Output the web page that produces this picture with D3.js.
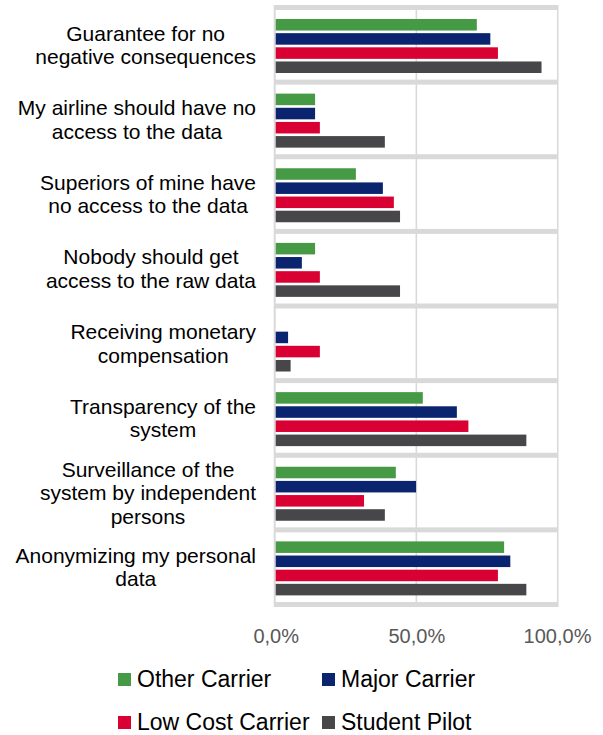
<!DOCTYPE html>
<html>
<head>
<meta charset="utf-8">
<script src="https://cdn.jsdelivr.net/npm/d3@7"></script>
<style>
  body { margin: 0; background: #fff; }
  text { font-family: "Liberation Sans", Arial, sans-serif; }
</style>
</head>
<body>
<div id="chart"></div>
<script>
// categories, one array of wrapped lines each
const categories = [
  ["Guarantee for no", "negative consequences"],
  ["My airline should have no", "access to the data"],
  ["Superiors of mine have", "no access to the data"],
  ["Nobody should get", "access to the raw data"],
  ["Receiving monetary", "compensation"],
  ["Transparency of the", "system"],
  ["Surveillance of the", "system by independent", "persons"],
  ["Anonymizing my personal", "data"]
];

const seriesNames = ["Other Carrier", "Major Carrier", "Low Cost Carrier", "Student Pilot"];
const seriesColors = ["#479a45", "#0b2470", "#d90033", "#474749"];

const otherCarrier = [71.5, 14.0, 28.5, 14.0, 0.0, 52.3, 42.7, 81.2];
const majorCarrier = [76.3, 14.0, 38.1, 9.3, 4.4, 64.4, 49.9, 83.4];
const lowCostCarrier = [79.0, 15.7, 42.0, 15.7, 15.7, 68.5, 31.4, 79.0];
const studentPilot = [94.5, 38.8, 44.2, 44.2, 5.3, 89.1, 38.8, 89.1];

const tickValues = [0, 50, 100];

const width = 603, height = 735;
const plot = { left: 275.7, right: 557, top: 7.5, bottom: 604.5 };

const svg = d3.select("#chart")
  .append("svg")
  .attr("width", width)
  .attr("height", height);

const x = d3.scaleLinear()
  .domain([0, 100])
  .range([plot.left, plot.right]);

const y = d3.scaleBand()
  .domain(d3.range(categories.length))
  .range([plot.top, plot.bottom]);

const inner = d3.scaleBand()
  .domain(d3.range(seriesNames.length))
  .range([11.5, 65.5])
  .paddingInner(0.185);

const allSeries = [otherCarrier, majorCarrier, lowCostCarrier, studentPilot];

// frame: gray background, white band panels
svg.append("rect")
  .attr("x", plot.left - 2)
  .attr("y", plot.top - 2.5)
  .attr("width", plot.right - plot.left + 3.5)
  .attr("height", plot.bottom - plot.top + 5)
  .attr("fill", "#d9d9d9");

svg.selectAll(".band")
  .data(categories)
  .join("rect")
  .attr("class", "band")
  .attr("x", plot.left)
  .attr("y", (d, i) => y(i) + 2.5)
  .attr("width", plot.right - plot.left)
  .attr("height", y.bandwidth() - 5)
  .attr("fill", "#fff");

svg.append("line")
  .attr("x1", x(50)).attr("x2", x(50))
  .attr("y1", plot.top).attr("y2", plot.bottom)
  .attr("stroke", "#d9d9d9")
  .attr("stroke-width", 1.6);

// bars
const groups = svg.selectAll(".grp")
  .data(categories)
  .join("g")
  .attr("class", "grp")
  .attr("transform", (d, i) => `translate(0,${y(i)})`);

groups.selectAll("rect")
  .data((d, i) => allSeries.map((s, k) => ({ k: k, v: s[i] })))
  .join("rect")
  .attr("x", x(0))
  .attr("y", d => inner(d.k))
  .attr("width", d => x(d.v) - x(0))
  .attr("height", inner.bandwidth())
  .attr("fill", d => seriesColors[d.k]);

// category labels, lines centred, block right-aligned to the axis
const lineH = 23.5;
groups.each(function(lines) {
  const g = d3.select(this);
  const t = g.append("text")
    .attr("font-size", 21)
    .attr("fill", "#000")
    .attr("text-anchor", "middle");
  const n = lines.length;
  lines.forEach((ln, j) => {
    t.append("tspan")
      .attr("y", y.bandwidth() / 2 + (j - (n - 1) / 2) * lineH + 7.5)
      .text(ln);
  });
  let maxW = 0;
  t.selectAll("tspan").each(function() { maxW = Math.max(maxW, this.getComputedTextLength()); });
  t.selectAll("tspan").attr("x", 256 - maxW / 2);
});

// x axis
const fmt = d3.formatLocale({ decimal: ",", thousands: ".", grouping: [3], currency: ["", "€"] }).format(".1%");
const xAxis = svg.append("g")
  .attr("transform", `translate(0,${plot.bottom})`)
  .call(d3.axisBottom(x).tickValues(tickValues).tickSize(0).tickPadding(24).tickFormat(d => fmt(d / 100)));
xAxis.select(".domain").remove();
xAxis.selectAll("text")
  .attr("font-size", 20)
  .attr("fill", "#595959")
  .style("font-family", "'Liberation Sans', Arial, sans-serif");

// legend
const legendPos = [[118, 673], [322, 673], [118, 716], [322, 716]];
const legend = svg.selectAll(".leg")
  .data(seriesNames)
  .join("g")
  .attr("class", "leg")
  .attr("transform", (d, i) => `translate(${legendPos[i][0]},${legendPos[i][1]})`);
legend.append("rect")
  .attr("width", 13).attr("height", 13)
  .attr("fill", (d, i) => seriesColors[i]);
legend.append("text")
  .attr("x", 19)
  .attr("y", 14)
  .attr("font-size", 23)
  .attr("fill", "#000")
  .text(d => d);
</script>
</body>
</html>
